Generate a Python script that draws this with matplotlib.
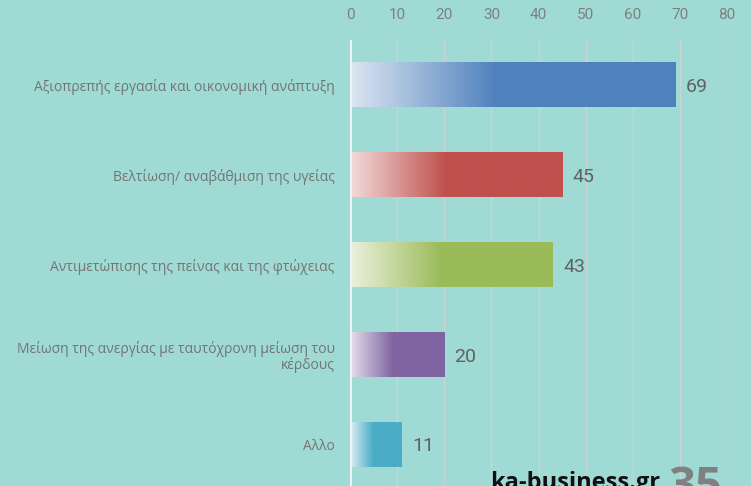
import numpy as np
import matplotlib.pyplot as plt
from matplotlib.colors import to_rgb

categories = [
    "Αξιοπρεπής εργασία και οικονομική ανάπτυξη",
    "Βελτίωση/ αναβάθμιση της υγείας",
    "Αντιμετώπισης της πείνας και της φτώχειας",
    "Μείωση της ανεργίας με ταυτόχρονη μείωση του\nκέρδους",
    "Αλλο",
]
values = [69, 45, 43, 20, 11]
bar_colors = ["#4f81bd", "#c0504d", "#9bbb59", "#8064a2", "#4bacc6"]
light_colors = ["#dce6f2", "#f2dcdb", "#ebf1de", "#e5e0ec", "#dbeef3"]
xticks = [0, 10, 20, 30, 40, 50, 60, 70, 80]

W, H = 751, 486
fig = plt.figure(figsize=(W / 100, H / 100), dpi=100)
bg = "#a0dad5"
fig.patch.set_facecolor(bg)

ax = fig.add_axes([350 / W, 0, (727 - 350) / W, 1 - 40 / H])
ax.set_facecolor("none")

for x in xticks[1:]:
    ax.axvline(x, color="#cdd3d3", lw=1.0, zorder=1)
ax.axvline(0, color="#f2f5f5", lw=2.0, zorder=4)

h = 0.49
n = 256
for i, (v, c, lc) in enumerate(zip(values, bar_colors, light_colors)):
    c1 = np.array(to_rgb(c))
    c0 = np.array(to_rgb(lc))
    t = np.linspace(0, 1, n)
    f = np.clip(t / 0.45, 0, 1)[:, None]
    grad = c0 * (1 - f) + c1 * f
    ax.imshow(grad[None, :, :], extent=(0, v, i + h / 2, i - h / 2),
              aspect="auto", zorder=3, interpolation="bilinear")
    ax.text(v + 2.2, i + 0.02, str(v), va="center", ha="left", fontsize=14,
            color="#5f6262", family="Roboto", zorder=5)

ax.set_ylim(4.46, -0.5)
ax.set_xlim(0, 80)
ax.set_xticks(xticks)
ax.xaxis.tick_top()
ax.tick_params(axis="x", length=0, pad=13, labelsize=11, labelcolor="#7d8080")
for lab in ax.get_xticklabels():
    lab.set_family("Roboto")
ax.set_yticks(range(len(categories)))
ax.set_yticklabels(categories, fontsize=10, color="#727575", family="Open Sans",
                   ha="right", linespacing=1.0)
ax.tick_params(axis="y", length=0, pad=11)
for s in ax.spines.values():
    s.set_visible(False)

fig.text(490 / W, 15 / H, "ka-business.gr", fontsize=17, fontweight="bold",
         color="#111111", family="Open Sans", va="top", ha="left")
fig.text(668 / W, 22 / H, "35", fontsize=34, fontweight="bold",
         color="#7f8181", family="Open Sans", va="top", ha="left")

fig.savefig("out.png", dpi=100, facecolor=bg)
